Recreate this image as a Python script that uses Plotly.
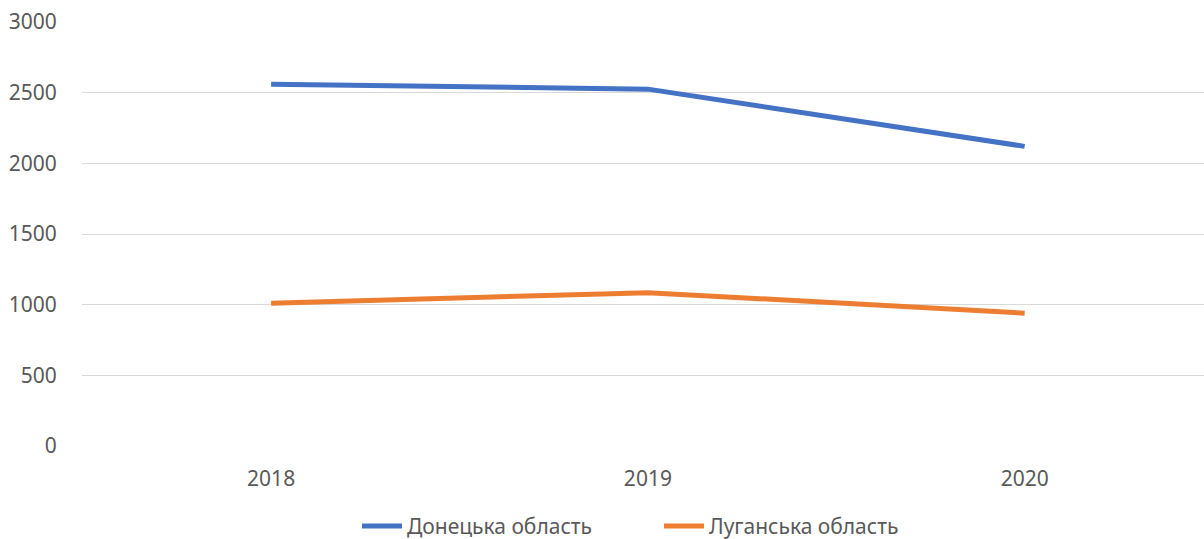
import plotly.graph_objects as go

years = [2018, 2019, 2020]
year_labels = ["2018", "2019", "2020"]
donetsk = [2560, 2525, 2120]
luhansk = [1010, 1085, 940]
y_ticks = [0, 500, 1000, 1500, 2000, 2500, 3000]

font_family = "Noto Sans"
text_color = "#595959"

fig = go.Figure()
fig.add_trace(go.Scatter(x=years, y=donetsk, mode="lines", name="Донецька область",
                         line=dict(color="#4472C4", width=5)))
fig.add_trace(go.Scatter(x=years, y=luhansk, mode="lines", name="Луганська область",
                         line=dict(color="#ED7D31", width=5)))

fig.update_layout(
    width=1204, height=539,
    margin=dict(l=82, r=0, t=22, b=93),
    paper_bgcolor="white", plot_bgcolor="white",
    font=dict(family=font_family, size=21, color=text_color),
    showlegend=True,
    legend=dict(orientation="h", xref="container", yref="container",
                x=0.2965, xanchor="left", y=0.0235, yanchor="middle",
                font=dict(size=21, color=text_color), itemwidth=40, tracegroupgap=0,
                entrywidth=247, entrywidthmode="pixels"),
)
fig.update_xaxes(range=[2017.498, 2020.476], tickvals=years, ticktext=year_labels,
                 showgrid=False, zeroline=False, showline=False, automargin=False,
                 ticks="outside", ticklen=14, tickcolor="rgba(0,0,0,0)",
                 tickfont=dict(size=21, color=text_color))
fig.update_yaxes(range=[0, 3000], tickvals=y_ticks, showgrid=True, gridcolor="#D9D9D9",
                 gridwidth=1.3, zeroline=False, showline=False, automargin=False,
                 ticks="outside", ticklen=20, tickcolor="rgba(0,0,0,0)",
                 tickfont=dict(size=21, color=text_color))

post = (
    "var h=document.documentElement, b=document.body;"
    "h.style.margin='0';h.style.padding='0';h.style.overflow='hidden';"
    "b.style.margin='0';b.style.padding='0';b.style.overflow='hidden';"
)

fig.write_html("out.html", config={"displayModeBar": False}, post_script=post)
